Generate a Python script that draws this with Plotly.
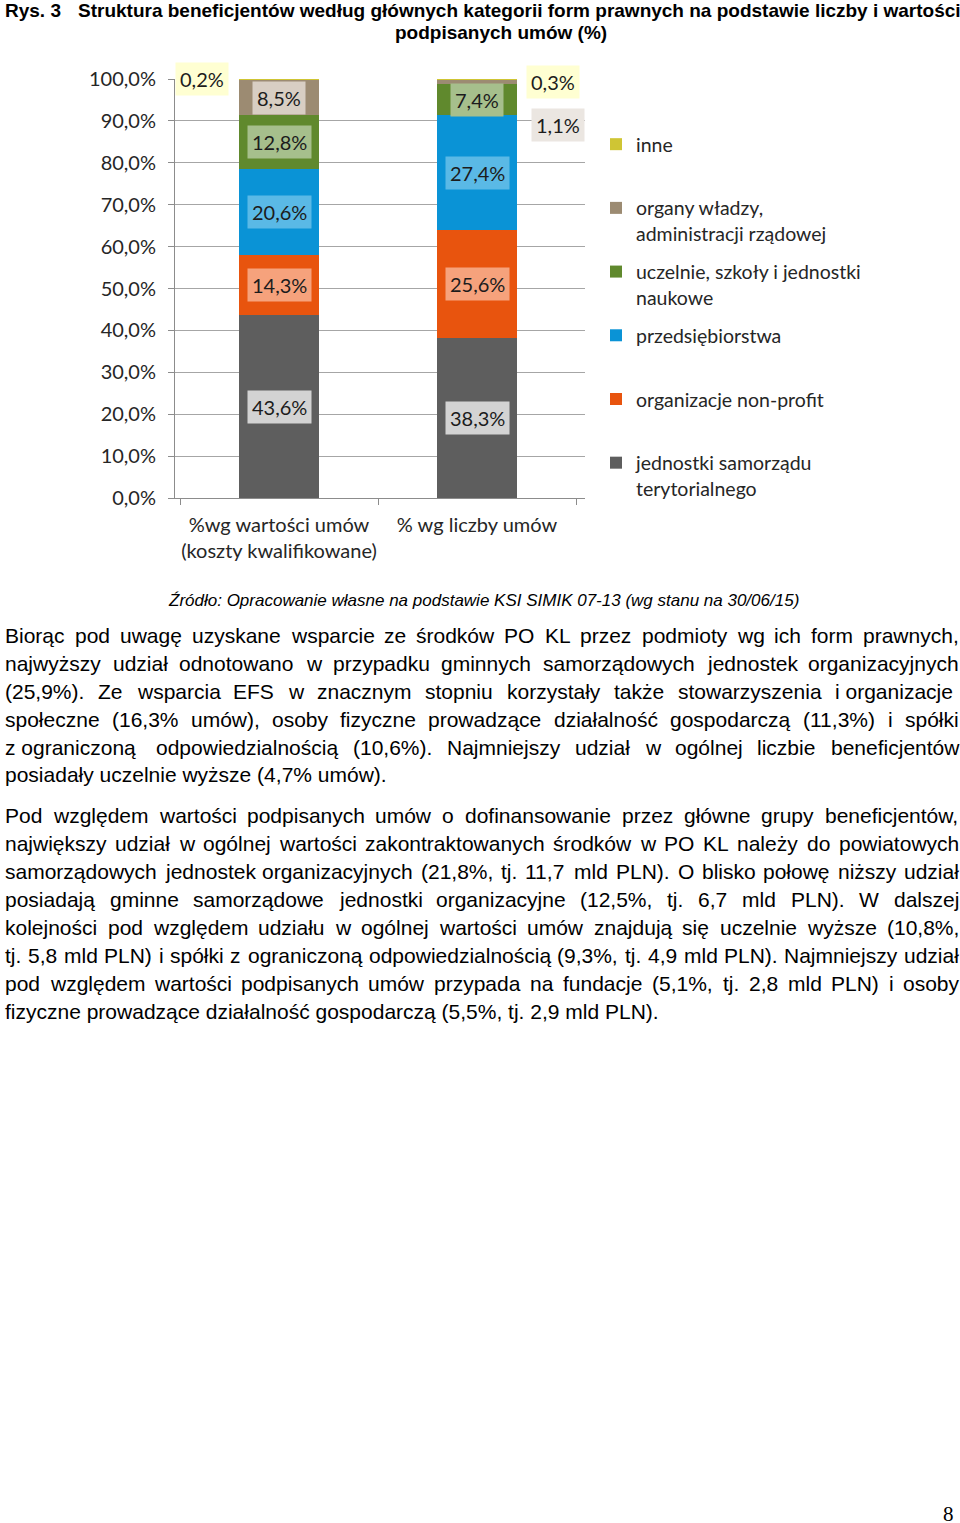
import plotly.graph_objects as go

# ---------------- data ----------------
categories = ["%wg wartości umów<br>(koszty kwalifikowane)", "% wg liczby umów"]
series_names = [
    "jednostki samorządu<br>terytorialnego",
    "organizacje non-profit<br>\u00a0",
    "przedsiębiorstwa<br>\u00a0",
    "uczelnie, szkoły i jednostki<br>naukowe",
    "organy władzy,<br>administracji rządowej",
    "inne<br>\u00a0",
]
jst = [43.6, 38.3]
nonprofit = [14.3, 25.6]
przedsiebiorstwa = [20.6, 27.4]
uczelnie = [12.8, 7.4]
organy = [8.5, 1.1]
inne = [0.2, 0.3]
series_values = [jst, nonprofit, przedsiebiorstwa, uczelnie, organy, inne]
y_tick_values = [0, 10, 20, 30, 40, 50, 60, 70, 80, 90, 100]
y_tick_labels = [f"{v:.1f}%".replace(".", ",") for v in y_tick_values]

# ---------------- styles ----------------
bar_colors = ["#5e5e5e", "#e8540e", "#0a93d6", "#60892d", "#9c8b72", "#cfc534"]
label_bg = ["#d3d3d3", "#f6a27c", "#5ab9e6", "#a6bf8c", "#d8cec3", "#ffffd2"]
# pixel offsets for labels that Excel put outside bars (series index, category index): (dx, dy)
outside_offsets = {(5, 0): (-77, 0), (5, 1): (76, -3), (4, 1): (81, -43)}
label_bg_override = {(4, 1): "#ebe6e1"}

L, R, T, B = 175, 585, 79, 498
FIG_W, FIG_H = 960, 1523
PW, PH = R - L, B - T

fig = go.Figure()
n = len(series_names)
for i, (name, vals) in enumerate(zip(series_names, series_values)):
    fig.add_trace(go.Bar(
        x=categories, y=vals, name=name,
        marker=dict(color=bar_colors[i], line=dict(width=0)),
        legendgroup=str(i), legendrank=n - i, hoverinfo="skip",
    ))

# data labels
annotations = []
for ci, cat in enumerate(categories):
    cum = 0.0
    for si, vals in enumerate(series_values):
        v = vals[ci]
        center = cum + v / 2
        cum += v
        dx, dy = outside_offsets.get((si, ci), (0, 0))
        annotations.append(dict(
            x=cat, y=min(center, 99.9), xref="x", yref="y",
            text=f"{v:.1f}%".replace(".", ","), showarrow=False,
            xshift=dx, yshift=dy,
            font=dict(family="Lato", size=20, color="#1c1c1c"),
            bgcolor=label_bg_override.get((si, ci), label_bg[si]), borderpad=4,
        ))

# ---------------- page text ----------------
ARIAL = {' ': 278, '!': 278, '%': 889, '(': 333, ')': 333, ',': 278, '-': 333, '.': 278, '/': 278, ':': 278,
         'A': 667, 'B': 667, 'C': 722, 'D': 722, 'E': 667, 'F': 611, 'G': 778, 'H': 722, 'I': 278, 'J': 500,
         'K': 667, 'L': 556, 'M': 833, 'N': 722, 'O': 778, 'P': 667, 'Q': 778, 'R': 722, 'S': 667, 'T': 611,
         'U': 722, 'V': 667, 'W': 944, 'X': 667, 'Y': 667, 'Z': 611,
         'a': 556, 'b': 556, 'c': 500, 'd': 556, 'e': 556, 'f': 278, 'g': 556, 'h': 556, 'i': 222, 'j': 222,
         'k': 500, 'l': 222, 'm': 833, 'n': 556, 'o': 556, 'p': 556, 'q': 556, 'r': 333, 's': 500, 't': 278,
         'u': 556, 'v': 500, 'w': 722, 'x': 500, 'y': 500, 'z': 500,
         'ą': 556, 'ę': 556, 'ć': 500, 'ł': 222, 'ń': 556, 'ó': 556, 'ś': 500, 'ź': 500, 'ż': 500,
         'Ś': 667, 'Ź': 611, 'Ż': 611, 'Ł': 556}


def text_width(s, size):
    return sum(ARIAL.get(c, 556) for c in s) / 1000.0 * size


def px_x(px):
    return (px - L) / PW


def px_y(py):
    return (B - py) / PH


BODY_FONT = dict(family="Liberation Sans, Arial", size=21, color="#000000")
LEFT_X, RIGHT_X = 4, 958


def add_line(words, py, justify):
    if not justify:
        annotations.append(dict(x=px_x(LEFT_X), y=px_y(py), xref="paper", yref="paper",
                                text=" ".join(words).replace("~", "\u00a0"),
                                showarrow=False, xanchor="left", yanchor="middle", font=BODY_FONT, borderpad=0))
        return
    widths = [text_width(w, 21) for w in words]
    gap = (RIGHT_X - LEFT_X - sum(widths)) / (len(words) - 1)
    x = LEFT_X
    for w, wd in zip(words, widths):
        annotations.append(dict(x=px_x(x), y=px_y(py), xref="paper", yref="paper", text=w.replace("~", "\u00a0"),
                                showarrow=False, xanchor="left", yanchor="middle", font=BODY_FONT, borderpad=0))
        x += wd + gap


para1 = [
    "Biorąc pod uwagę uzyskane wsparcie ze środków PO KL przez podmioty wg ich form prawnych,",
    "najwyższy udział odnotowano w przypadku gminnych samorządowych jednostek organizacyjnych",
    "(25,9%). Ze wsparcia EFS w znacznym stopniu korzystały także stowarzyszenia i~organizacje",
    "społeczne (16,3% umów), osoby fizyczne prowadzące działalność gospodarczą (11,3%) i spółki",
    "z~ograniczoną odpowiedzialnością (10,6%). Najmniejszy udział w ogólnej liczbie beneficjentów",
    "posiadały uczelnie wyższe (4,7% umów).",
]
para2 = [
    "Pod względem wartości podpisanych umów o dofinansowanie przez główne grupy beneficjentów,",
    "największy udział w ogólnej wartości zakontraktowanych środków w PO KL należy do powiatowych",
    "samorządowych jednostek organizacyjnych (21,8%, tj. 11,7 mld PLN). O blisko połowę niższy udział",
    "posiadają gminne samorządowe jednostki organizacyjne (12,5%, tj. 6,7 mld PLN). W dalszej",
    "kolejności pod względem udziału w ogólnej wartości umów znajdują się uczelnie wyższe (10,8%,",
    "tj. 5,8 mld PLN) i spółki z ograniczoną odpowiedzialnością (9,3%, tj. 4,9 mld PLN). Najmniejszy udział",
    "pod względem wartości podpisanych umów przypada na fundacje (5,1%, tj. 2,8 mld PLN) i osoby",
    "fizyczne prowadzące działalność gospodarczą (5,5%, tj. 2,9 mld PLN).",
]
for k, line in enumerate(para1):
    add_line(line.split(" "), 635 + 28 * k, k < len(para1) - 1)
for k, line in enumerate(para2):
    add_line(line.split(" "), 815 + 28 * k, k < len(para2) - 1)

TITLE_FONT = dict(family="Liberation Sans, Arial", size=19, color="#000000")
annotations += [
    dict(x=px_x(4), y=px_y(11), xref="paper", yref="paper", text="<b>Rys. 3</b>", showarrow=False,
         xanchor="left", yanchor="middle", font=TITLE_FONT, borderpad=0),
    dict(x=px_x(77), y=px_y(11), xref="paper", yref="paper",
         text="<b>Struktura beneficjentów według głównych kategorii form prawnych na podstawie liczby i wartości</b>",
         showarrow=False, xanchor="left", yanchor="middle", font=TITLE_FONT, borderpad=0),
    dict(x=px_x(501), y=px_y(33), xref="paper", yref="paper", text="<b>podpisanych umów (%)</b>", showarrow=False,
         xanchor="center", yanchor="middle", font=TITLE_FONT, borderpad=0),
    dict(x=px_x(483), y=px_y(600), xref="paper", yref="paper",
         text="<i>Źródło: Opracowanie własne na podstawie KSI SIMIK 07-13 (wg stanu na 30/06/15)</i>",
         showarrow=False, xanchor="center", yanchor="middle",
         font=dict(family="Liberation Sans, Arial", size=17, color="#000000"), borderpad=0),
    dict(x=px_x(955), y=px_y(1514), xref="paper", yref="paper", text="8", showarrow=False,
         xanchor="right", yanchor="middle",
         font=dict(family="Liberation Serif, Times New Roman", size=21, color="#000000"), borderpad=0),
]

AX_FONT = dict(family="Lato", size=20, color="#262626")
fig.update_layout(
    width=FIG_W, height=FIG_H,
    margin=dict(l=L, r=FIG_W - R, t=T, b=FIG_H - B, pad=0, autoexpand=False),
    paper_bgcolor="white", plot_bgcolor="white",
    barmode="stack", bargap=0.6,
    annotations=annotations,
    showlegend=True,
    legend=dict(
        x=px_x(596), y=px_y(125), xanchor="left", yanchor="top",
        traceorder="grouped", tracegroupgap=10, valign="top",
        font=dict(family="Lato", size=19.5, color="#262626"),
        bgcolor="rgba(0,0,0,0)", borderwidth=0, itemwidth=30,
    ),
    xaxis=dict(
        showline=True, linecolor="#8c8c8c", linewidth=1,
        ticks="outside", ticklen=6, tickcolor="#8c8c8c", tickson="boundaries",
        tickfont=AX_FONT, tickangle=0, ticklabelstandoff=9, showgrid=False, fixedrange=True,
    ),
    yaxis=dict(
        range=[0, 100], tickvals=y_tick_values, ticktext=y_tick_labels,
        showline=True, linecolor="#8c8c8c", linewidth=1,
        ticks="outside", ticklen=6, tickcolor="#8c8c8c",
        showgrid=True, gridcolor="#a6a6a6", gridwidth=1, zeroline=False,
        tickfont=AX_FONT, ticklabelstandoff=8, fixedrange=True,
    ),
)

fig.write_html("out.html", config={"displayModeBar": False},
               post_script="document.body.style.margin='0';")
